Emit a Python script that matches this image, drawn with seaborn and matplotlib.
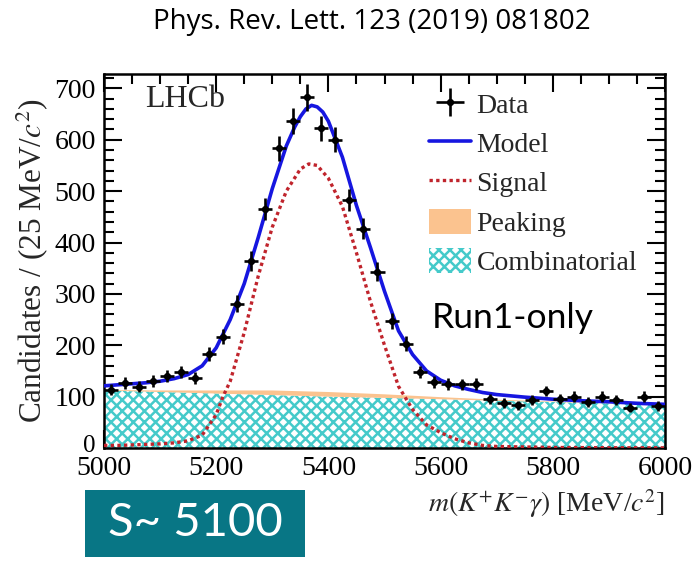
import numpy as np
import pandas as pd
import matplotlib
matplotlib.use("Agg")
import matplotlib.pyplot as plt
import matplotlib.transforms as mtransforms
import seaborn as sns
from matplotlib.patches import Rectangle, Patch
from matplotlib.lines import Line2D
from matplotlib.ticker import MultipleLocator

# ---------------- data ----------------
bin_centers = [5012.5, 5037.5, 5062.5, 5087.5, 5112.5, 5137.5, 5162.5, 5187.5,
               5212.5, 5237.5, 5262.5, 5287.5, 5312.5, 5337.5, 5362.5, 5387.5,
               5412.5, 5437.5, 5462.5, 5487.5, 5512.5, 5537.5, 5562.5, 5587.5,
               5612.5, 5637.5, 5662.5, 5687.5, 5712.5, 5737.5, 5762.5, 5787.5,
               5812.5, 5837.5, 5862.5, 5887.5, 5912.5, 5937.5, 5962.5, 5987.5]
counts = [113, 127, 119, 130, 140, 148, 136, 183,
          217, 281, 364, 466, 583, 637, 683, 622,
          600, 483, 427, 343, 247, 203, 148, 129,
          125, 124, 125, 95, 88, 83, 94, 111,
          95, 100, 90, 100, 93, 78, 100, 82]

model_x = [5000, 5025, 5050, 5075, 5100, 5125, 5150, 5175, 5200, 5225, 5250,
           5275, 5300, 5325, 5340, 5350, 5360, 5370, 5380, 5390, 5400, 5425,
           5450, 5475, 5500, 5525, 5550, 5575, 5600, 5625, 5650, 5675, 5700,
           5750, 5800, 5850, 5900, 5950, 6000]
model_y = [121, 123, 125, 127, 130, 135, 143, 160, 195, 250, 320,
           410, 505, 588, 625, 645, 660, 667, 664, 654, 636, 566,
           472, 390, 305, 228, 182, 150, 132, 121, 114, 108, 104,
           99, 95, 92, 90, 87, 85]

signal_x = [5000, 5025, 5050, 5075, 5100, 5125, 5150, 5175, 5200, 5212, 5225,
            5250, 5275, 5300, 5325, 5350, 5365, 5380, 5400, 5425, 5450, 5475,
            5500, 5525, 5550, 5575, 5600, 5625, 5650, 5675, 5700, 5750, 5800,
            5900, 6000]
signal_y = [5, 5, 6, 7, 8, 10, 14, 25, 65, 100, 130,
            225, 335, 430, 500, 543, 553, 550, 525, 470, 380, 285,
            200, 120, 75, 45, 30, 18, 10, 5, 3, 2, 1,
            0.5, 0.3]

bkg_x = [5000, 5100, 5200, 5300, 5400, 5500, 5600, 5700, 5800, 5900, 6000]
combinatorial = [112, 109, 106, 103, 100, 97.5, 95, 92, 89.5, 87, 84.5]
peaking = [1, 3, 6, 9, 9, 7, 4, 2, 1, 0.7, 0.5]

title_text = "Phys. Rev. Lett. 123 (2019) 081802"
legend_labels = ["Data", "Model", "Signal", "Peaking", "Combinatorial"]

# ---------------- style ----------------
sns.set_theme(style="ticks")
plt.rcParams["font.family"] = ["Liberation Serif", "DejaVu Serif"]
plt.rcParams["mathtext.fontset"] = "stix"
plt.rcParams["hatch.linewidth"] = 1.8

BLUE = "#1616E0"
RED = "#C0242C"
CYAN = "#45CACA"
ORANGE = "#FBC38F"

fig = plt.figure(figsize=(6.97, 5.72), dpi=100)
ax = fig.add_axes([104 / 697, 1 - 448 / 572, 561 / 697, 374 / 572])

bkg = pd.DataFrame({"x": bkg_x, "comb": combinatorial, "peak": peaking})
bkg["top"] = bkg["comb"] + bkg["peak"]

ax.fill_between(bkg["x"], 0, bkg["comb"], facecolor="white", edgecolor=CYAN,
                hatch="xxx", linewidth=0, zorder=1)
ax.fill_between(bkg["x"], bkg["comb"], bkg["top"], facecolor=ORANGE,
                edgecolor="none", linewidth=0, zorder=1)

sig = pd.DataFrame({"x": signal_x, "y": signal_y})
mod = pd.DataFrame({"x": model_x, "y": model_y})
sns.lineplot(data=sig, x="x", y="y", ax=ax, color=RED, lw=2.4,
             linestyle=(0, (1.0, 1.0)), zorder=3)
sns.lineplot(data=mod, x="x", y="y", ax=ax, color=BLUE, lw=2.6, zorder=4)

dat = pd.DataFrame({"x": bin_centers, "y": counts})
dat["err"] = np.sqrt(dat["y"])
eb = ax.errorbar(dat["x"], dat["y"], yerr=dat["err"], xerr=12.5, fmt="o",
                 ms=4.2, color="black", elinewidth=1.9, capsize=0, zorder=5)

ax.set_xlim(5000, 6000)
ax.set_ylim(0, 728)
ax.xaxis.set_major_locator(MultipleLocator(200))
ax.xaxis.set_minor_locator(MultipleLocator(50))
ax.yaxis.set_major_locator(MultipleLocator(100))
ax.yaxis.set_minor_locator(MultipleLocator(20))
ax.tick_params(which="both", direction="in", top=True, right=True,
               colors="black", labelsize=20, width=1.5)
ax.tick_params(which="major", length=13, pad=6)
ax.tick_params(which="minor", length=7)
for s in ax.spines.values():
    s.set_linewidth(1.8)
    s.set_color("black")

fig.canvas.draw()
ylabels = ax.get_yticklabels()
for lab in ylabels:
    if lab.get_text() in ("0", "−0"):
        lab.set_transform(lab.get_transform() +
                          mtransforms.ScaledTranslation(0, 4 / 100, fig.dpi_scale_trans))
        lab.set_fontsize(18)

ax.set_xlabel(r"$m(K^{+}K^{-}\gamma)$ [MeV/$c^{2}$]", fontsize=20,
              loc="right", labelpad=4)
ax.set_ylabel(r"Candidates / (25 MeV/$c^{2}$)", fontsize=22.5, labelpad=3)

ax.text(0.073, 0.933, "LHCb", transform=ax.transAxes, fontsize=23,
        ha="left", va="center")

handles = [eb,
           Line2D([], [], color=BLUE, lw=2.6),
           Line2D([], [], color=RED, lw=2.4, linestyle=(0, (1.0, 1.0))),
           Patch(facecolor=ORANGE, edgecolor="none"),
           Patch(facecolor="white", edgecolor=CYAN, hatch="xxx", lw=0)]
leg = ax.legend(handles, legend_labels, loc="upper left",
                bbox_to_anchor=(0.56, 0.985), frameon=False, fontsize=20,
                handlelength=1.5, handleheight=1.0, handletextpad=0.2,
                labelspacing=0.41, borderaxespad=0)

fig.text(432 / 697, 1 - 318 / 572, "Run1-only", family="Lato", fontsize=25.5,
         ha="left", va="center", color="black")

fig.text(372 / 697, 1 - 22 / 572, title_text, family="Open Sans",
         fontsize=20, ha="center", va="center", color="black")

fig.patches.append(Rectangle((85 / 697, 1 - 557 / 572), 220 / 697, 67 / 572,
                             transform=fig.transFigure, facecolor="#087685",
                             edgecolor="none"))
fig.text(195 / 697, 1 - 523 / 572, "S~ 5100", family="Lato", fontsize=34,
         ha="center", va="center", color="white")

fig.savefig("out.png", dpi=100)
